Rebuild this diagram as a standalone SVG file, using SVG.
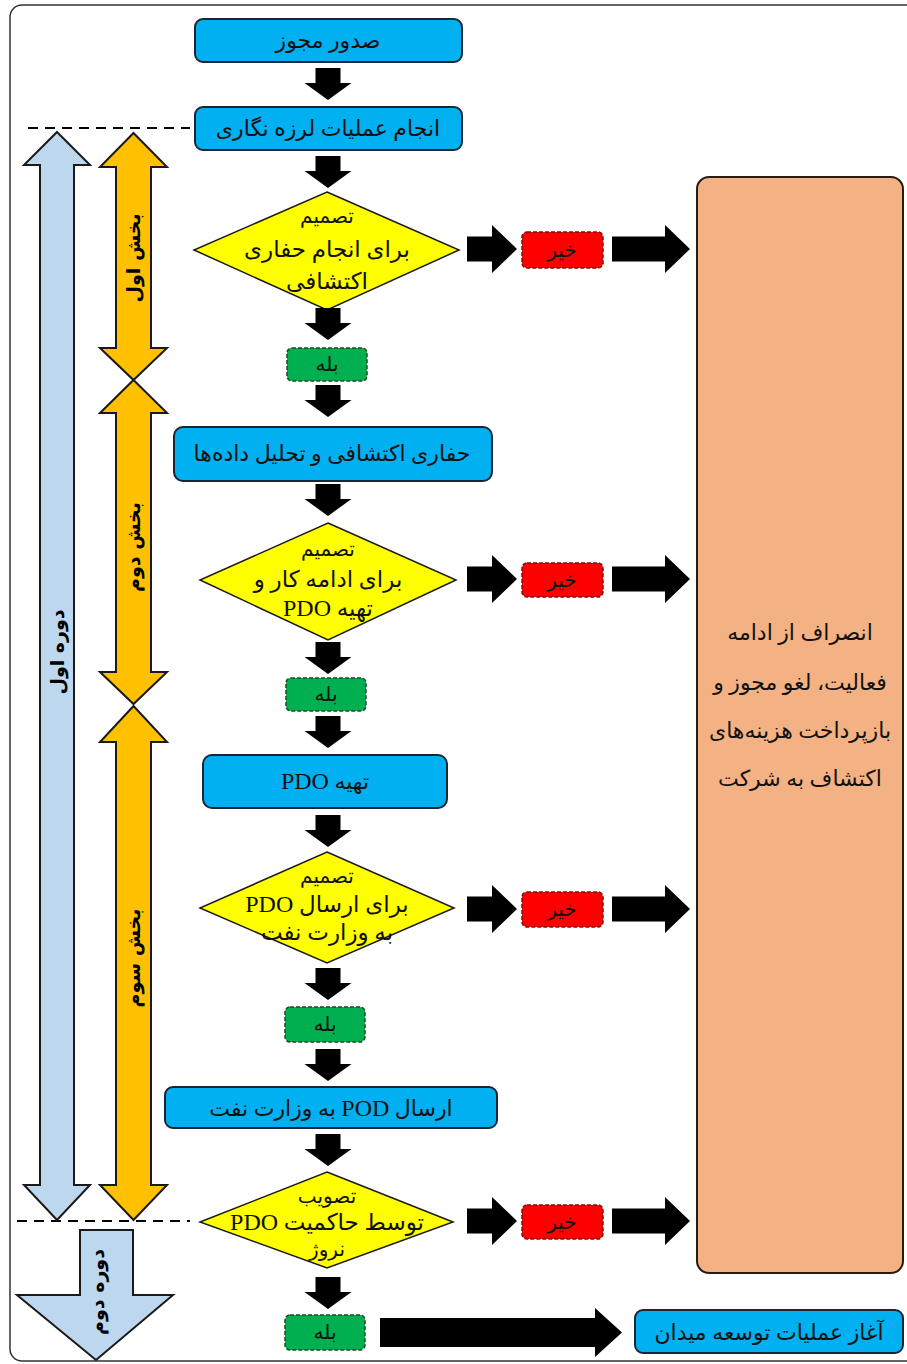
<svg xmlns="http://www.w3.org/2000/svg" xmlns:xlink="http://www.w3.org/1999/xlink" width="907" height="1364" viewBox="0 0 907 1364">
<style>
.box{fill:#00B0F0;stroke:#1b2535;stroke-width:2}
.dia{fill:#FFFF00;stroke:#1a1a1a;stroke-width:1.5}
.no{fill:#FF0000;stroke:#7a1010;stroke-width:1.5;stroke-dasharray:4 2}
.yes{fill:#00B050;stroke:#1d4a22;stroke-width:1.5;stroke-dasharray:4 2}
.arr{fill:#000}
.t{font-family:"Liberation Serif","DejaVu Sans",serif;font-size:22px;fill:#111;text-anchor:middle;direction:rtl}
.td{font-family:"Liberation Serif","DejaVu Sans",serif;font-size:20px;fill:#111;text-anchor:middle;direction:rtl}
.big{font-size:23px}
.pdo{font-size:24px}
.tv{font-family:"DejaVu Sans",sans-serif;font-size:19px;font-weight:bold;fill:#000;text-anchor:middle;direction:rtl}
.dash{stroke:#000;stroke-width:2;stroke-dasharray:10 7;fill:none}
</style>
<defs>
<path id="darr" d="M-12.5,0 h25 v15 h11 l-23.5,17 l-23.5,-17 h11 z"/>
<path id="rs" d="M0,-12.5 h25 v-11.5 l25,24 l-25,24 v-11.5 h-25 z"/>
<path id="rm" d="M0,-12.5 h53 v-11.5 l25,24 l-25,24 v-11.5 h-53 z"/>
</defs>
<rect x="10" y="5" width="910" height="1356" rx="12" fill="#fff" stroke="#333" stroke-width="1.5"/>

<g id="side">
<path d="M57,132 L90,165 L74,165 L74,1185 L90,1185 L57,1220 L24,1185 L40,1185 L40,165 L24,165 Z" fill="#BDD7EE" stroke="#1a1a1a" stroke-width="2"/>
<path d="M133.5,133 L167,167 L151,167 L151,348 L167,348 L133.5,380 L100,348 L116,348 L116,167 L100,167 Z" fill="#FFC000" stroke="#1a1a1a" stroke-width="2"/>
<path d="M133.5,380 L167,413 L151,413 L151,672 L167,672 L133.5,704 L100,672 L116,672 L116,413 L100,413 Z" fill="#FFC000" stroke="#1a1a1a" stroke-width="2"/>
<path d="M133.5,706 L167,742 L151,742 L151,1185 L167,1185 L133.5,1220 L100,1185 L116,1185 L116,742 L100,742 Z" fill="#FFC000" stroke="#1a1a1a" stroke-width="2"/>
<path d="M80,1230 L133,1230 L133,1295 L173,1295 L96,1360 L17,1295 L80,1295 Z" fill="#BDD7EE" stroke="#1a1a1a" stroke-width="2"/>
<text class="tv" transform="translate(140,258) rotate(-90)">بخش اول</text>
<text class="tv" transform="translate(140,547) rotate(-90)">بخش دوم</text>
<text class="tv" transform="translate(140,958) rotate(-90)">بخش سوم</text>
<text class="tv" transform="translate(64,652) rotate(-90)">دوره اول</text>
<text class="tv" transform="translate(104,1292) rotate(-90)">دوره دوم</text>
<line class="dash" x1="28" y1="128" x2="190" y2="128"/>
<line class="dash" x1="17" y1="1221" x2="190" y2="1221"/>
</g>

<g id="n1"><rect class="box" x="195" y="19" width="267" height="43" rx="8"/><text class="t" x="328" y="48">صدور مجوز</text></g>
<g id="n2"><rect class="box" x="195" y="107" width="267" height="43" rx="8"/><text class="t" x="328" y="136">انجام عملیات لرزه نگاری</text></g>
<g id="d1"><polygon class="dia" points="327,192 459,250 327,310 194,250"/>
<text class="td" x="327" y="223">تصمیم</text><text class="td big" x="327" y="257">برای انجام حفاری</text><text class="td big" x="327" y="289">اکتشافی</text></g>
<g id="no1"><rect class="no" x="522" y="232" width="81" height="36" rx="5"/><text class="td" x="562" y="257">خیر</text></g>
<g id="yes1"><rect class="yes" x="287" y="348" width="80" height="33" rx="5"/><text class="td" x="327" y="371">بله</text></g>
<g id="n3"><rect class="box" x="174" y="427" width="318" height="54" rx="9"/><text class="t" x="332" y="461">حفاری اکتشافی و تحلیل داده‌ها</text></g>
<g id="d2"><polygon class="dia" points="328,523 456,580 328,640 200,580"/>
<text class="td" x="328" y="556">تصمیم</text><text class="td big" x="328" y="587">برای ادامه کار و</text><text class="td big" x="328" y="616">تهیه <tspan class="pdo">PDO</tspan></text></g>
<g id="no2"><rect class="no" x="522" y="563" width="81" height="34" rx="5"/><text class="td" x="562" y="587">خیر</text></g>
<g id="yes2"><rect class="yes" x="286" y="678" width="80" height="33" rx="5"/><text class="td" x="326" y="701">بله</text></g>
<g id="n4"><rect class="box" x="203" y="755" width="244" height="53" rx="9"/><text class="t" x="325" y="789">تهیه <tspan class="pdo">PDO</tspan></text></g>
<g id="d3"><polygon class="dia" points="327,852 454,908 327,963 200,908"/>
<text class="td" x="327" y="883">تصمیم</text><text class="td big" x="327" y="912">برای ارسال <tspan class="pdo">PDO</tspan></text><text class="td big" x="327" y="940">به وزارت نفت</text></g>
<g id="no3"><rect class="no" x="522" y="892" width="81" height="35" rx="5"/><text class="td" x="562" y="916">خیر</text></g>
<g id="yes3"><rect class="yes" x="285" y="1007" width="80" height="35" rx="5"/><text class="td" x="325" y="1031">بله</text></g>
<g id="n5"><rect class="box" x="165" y="1087" width="332" height="41" rx="8"/><text class="t" x="331" y="1116">ارسال <tspan class="pdo">POD</tspan> به وزارت نفت</text></g>
<g id="d4"><polygon class="dia" points="327,1172 453,1222 327,1268 200,1222"/>
<text class="td" x="327" y="1203">تصویب</text><text class="td big" x="327" y="1230">توسط حاکمیت <tspan class="pdo">PDO</tspan></text><text class="td" x="327" y="1256">نروژ</text></g>
<g id="no4"><rect class="no" x="522" y="1205" width="81" height="34" rx="5"/><text class="td" x="562" y="1229">خیر</text></g>
<g id="yes4"><rect class="yes" x="285" y="1315" width="80" height="35" rx="5"/><text class="td" x="325" y="1339">بله</text></g>
<g id="stop"><rect x="697" y="177" width="206" height="1096" rx="12" fill="#F4B183" stroke="#2a1a10" stroke-width="2"/>
<text class="t" x="800" y="640">انصراف از ادامه</text><text class="t" x="800" y="690">فعالیت، لغو مجوز و</text><text class="t" x="800" y="738">بازپرداخت هزینه‌های</text><text class="t" x="800" y="786">اکتشاف به شرکت</text></g>
<g id="dev"><rect class="box" x="635" y="1310" width="268" height="43" rx="8"/><text class="t" x="769" y="1340">آغاز عملیات توسعه میدان</text></g>

<g id="connectors" class="arr">
<use xlink:href="#darr" x="328" y="68"/>
<use xlink:href="#darr" x="328" y="156"/>
<use xlink:href="#darr" x="328" y="308"/>
<use xlink:href="#darr" x="328" y="385"/>
<use xlink:href="#darr" x="328" y="484"/>
<use xlink:href="#darr" x="328" y="642"/>
<use xlink:href="#darr" x="328" y="716"/>
<use xlink:href="#darr" x="328" y="815"/>
<use xlink:href="#darr" x="328" y="968"/>
<use xlink:href="#darr" x="328" y="1049"/>
<use xlink:href="#darr" x="328" y="1134"/>
<use xlink:href="#darr" x="328" y="1277"/>
<use xlink:href="#rs" x="467" y="249"/>
<use xlink:href="#rm" x="612" y="249"/>
<use xlink:href="#rs" x="467" y="579"/>
<use xlink:href="#rm" x="612" y="579"/>
<use xlink:href="#rs" x="467" y="909"/>
<use xlink:href="#rm" x="612" y="909"/>
<use xlink:href="#rs" x="467" y="1221"/>
<use xlink:href="#rm" x="612" y="1221"/>
<path d="M380,1318 H595 V1308 L622,1332.5 L595,1357 V1347 H380 Z"/>
</g>
</svg>
